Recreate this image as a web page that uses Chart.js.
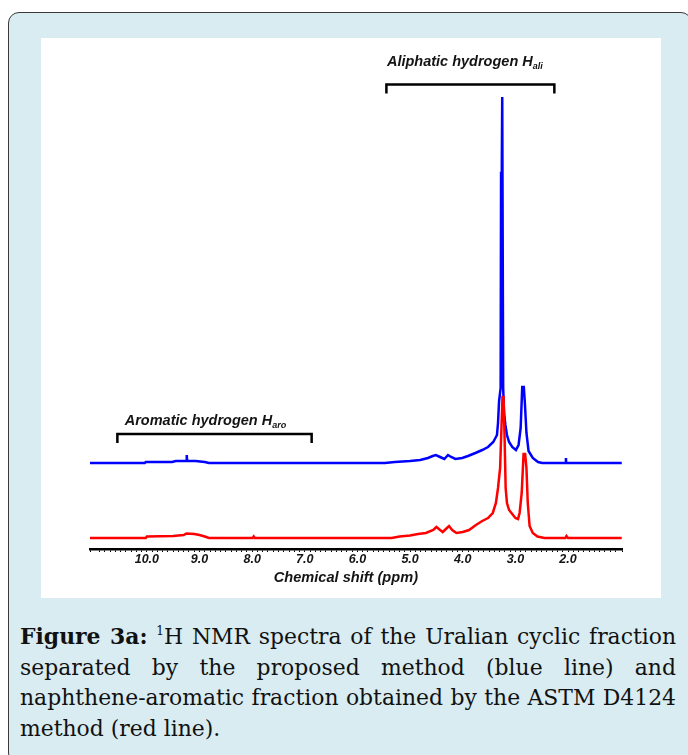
<!DOCTYPE html>
<html>
<head>
<meta charset="utf-8">
<script src="https://cdn.jsdelivr.net/npm/chart.js@4.4.0/dist/chart.umd.min.js"></script>
<style>
  body { margin: 0; background: #fff; width: 688px; height: 755px; overflow: hidden; position: relative; }
  #box { position: absolute; left: 8px; top: 12px; width: 682px; height: 750px; background: #d9ecf1;
         border: 1.5px solid #3a3a3a; border-radius: 11px; }
  #panel { position: absolute; left: 41px; top: 38px; width: 620px; height: 560px; background: #fff; }
  #caption { position: absolute; left: 20px; top: 621px; width: 656px; font-family: "DejaVu Serif", serif;
             font-size: 21px; line-height: 30.7px; color: #111; }
  #caption div { text-align: justify; text-align-last: justify; white-space: nowrap; }
  #caption div.last { text-align-last: left; }
  #caption sup { font-size: 12px; vertical-align: 9px; line-height: 0; }
</style>
</head>
<body>
<div id="box"></div>
<div id="panel"><canvas id="myChart"></canvas></div>
<div id="caption">
  <div><b>Figure 3a:</b> <sup>1</sup>H NMR spectra of the Uralian cyclic fraction</div>
  <div>separated by the proposed method (blue line) and</div>
  <div id="fitLine">naphthene-aromatic fraction obtained by the ASTM D4124</div>
  <div class="last">method (red line).</div>
</div>
<script>
// chemical shift (ppm) and intensity
var bluePpm = [11.08, 10.04, 10.02, 9.52, 9.45, 9.25, 9.242, 9.235, 9.07, 8.99, 8.9, 8.82,
  5.48, 5.29, 5.0, 4.81, 4.66, 4.57, 4.51, 4.43, 4.35, 4.28, 4.22, 4.14, 4.01, 3.9, 3.76, 3.63,
  3.52, 3.42, 3.35, 3.33, 3.31, 3.28, 3.272, 3.258, 3.25, 3.24, 3.232, 3.215, 3.19, 3.16, 3.12, 3.06,
  2.99, 2.94, 2.9, 2.87, 2.84, 2.82, 2.79, 2.75, 2.67, 2.57, 2.49, 2.045, 2.04, 2.035, 0.98];
var blueIntensity = [0, 0, 1, 1, 2, 2, 8, 2, 2, 1.5, 1, 0,
  0, 1, 2, 3, 5, 7, 8, 6, 4, 8, 6, 4, 5, 7, 10, 13,
  16, 21, 28, 40, 62, 75, 290, 300, 366, 366, 75, 50, 38, 28, 21, 16,
  13, 18, 35, 76, 76, 60, 30, 12, 5, 1, 0, 0, 5, 0, 0];

var redPpm = [11.08, 10.02, 10.0, 9.5, 9.3, 9.25, 9.1, 9.0, 8.9, 8.82, 7.99, 7.97, 7.95,
  5.35, 5.2, 5.0, 4.85, 4.7, 4.56, 4.5, 4.43, 4.38, 4.3, 4.26, 4.2, 4.12, 4.0, 3.88, 3.75,
  3.63, 3.52, 3.43, 3.37, 3.33, 3.29, 3.265, 3.245, 3.225, 3.205, 3.185, 3.16, 3.12, 3.06,
  3.0, 2.95, 2.92, 2.88, 2.845, 2.815, 2.79, 2.765, 2.73, 2.67, 2.58, 2.45, 2.05, 2.03, 2.0, 0.98];
var redIntensity = [0, 0, 1.5, 2, 3, 4.5, 4, 3, 1.5, 0, 0, 1.5, 0,
  0, 1.5, 2.5, 4, 5, 8, 11, 8, 6, 10, 12, 8, 5, 6, 8, 13,
  17, 20, 25, 35, 50, 70, 110, 141, 141, 100, 50, 35, 28, 24,
  20, 19, 25, 45, 84, 84, 70, 35, 12, 5, 1.5, 0, 0, 2, 0, 0];

// blue spectrum is stacked above the red one
var blueOffset = 75;

// x axis
var ppmMin = 0.975;
var ppmMax = 11.08;
var tickStep = 0.1;
var labelFrom = 2;
var labelTo = 10;
var axisTitle = 'Chemical shift (ppm)';
var axisTitlePpm = 6.22;

// region brackets
var bracketNames = ['Aliphatic hydrogen H', 'Aromatic hydrogen H'];
var bracketSubs = ['ali', 'aro'];
var bracketFrom = [5.45, 10.56];
var bracketTo = [2.26, 6.87];
var bracketTextPpm = [5.44, 10.42];
var bracketLevel = [453.5, 104];
var bracketTextGap = [19, 9];

function toPoints(xs, ys, shift) {
  var pts = [];
  for (var i = 0; i < xs.length; i++) {
    pts.push({x: xs[i], y: ys[i] + shift});
  }
  return pts;
}

// caption: size the serif font so the full third line spans the box
(function fitCaption() {
  var cap = document.getElementById('caption');
  var c = document.createElement('canvas').getContext('2d');
  c.font = '100px "DejaVu Serif"';
  var w = c.measureText(document.getElementById('fitLine').textContent).width;
  var size = Math.min(23, Math.floor(656 / w * 100 * 10) / 10);
  cap.style.fontSize = size + 'px';
})();

var labelFont = '"Liberation Sans", Arial, sans-serif';

var bracketPlugin = {
  id: 'brackets',
  afterDraw: function(chart) {
    var ctx = chart.ctx;
    var x = chart.scales.x, y = chart.scales.y;
    ctx.save();
    ctx.strokeStyle = '#000';
    ctx.fillStyle = '#141414';
    ctx.lineWidth = 2.5;
    for (var i = 0; i < bracketNames.length; i++) {
      var x1 = x.getPixelForValue(bracketFrom[i]);
      var x2 = x.getPixelForValue(bracketTo[i]);
      var yb = y.getPixelForValue(bracketLevel[i]);
      ctx.beginPath();
      ctx.moveTo(x1, yb + 9);
      ctx.lineTo(x1, yb);
      ctx.lineTo(x2, yb);
      ctx.lineTo(x2, yb + 9);
      ctx.stroke();

      var tx = x.getPixelForValue(bracketTextPpm[i]);
      var ty = yb - bracketTextGap[i];
      ctx.textBaseline = 'alphabetic';
      ctx.textAlign = 'left';
      ctx.font = 'italic bold 14.5px ' + labelFont;
      ctx.fillText(bracketNames[i], tx, ty);
      var w = ctx.measureText(bracketNames[i]).width;
      ctx.font = 'italic bold 9px ' + labelFont;
      ctx.fillText(bracketSubs[i], tx + w, ty + 3);
    }
    // axis title
    ctx.font = 'italic bold 14.6px ' + labelFont;
    ctx.fillStyle = '#141414';
    ctx.textAlign = 'center';
    ctx.textBaseline = 'middle';
    ctx.fillText(axisTitle, x.getPixelForValue(axisTitlePpm), x.bottom - 20);
    ctx.restore();
  }
};

var canvas = document.getElementById('myChart');
var chart = new Chart(canvas, {
  type: 'line',
  data: {
    datasets: [
      {
        label: 'naphthene-aromatic fraction (ASTM D4124)',
        data: toPoints(redPpm, redIntensity, 0),
        borderColor: '#ff0000',
        borderWidth: 2.5,
        pointRadius: 0,
        tension: 0,
        fill: false
      },
      {
        label: 'cyclic fraction (proposed method)',
        data: toPoints(bluePpm, blueIntensity, blueOffset),
        borderColor: '#0000ff',
        borderWidth: 2.5,
        pointRadius: 0,
        tension: 0,
        fill: false
      }
    ]
  },
  options: {
    responsive: true,
    maintainAspectRatio: false,
    animation: false,
    layout: { padding: { left: 49, right: 39, top: 30, bottom: 0 } },
    plugins: {
      legend: { display: false },
      tooltip: { enabled: false },
      title: { display: false }
    },
    scales: {
      x: {
        type: 'linear',
        reverse: true,
        min: ppmMin,
        max: ppmMax,
        afterFit: function(scale) { scale.height = 49; },
        border: { display: true, color: '#000', width: 2.5 },
        grid: { drawOnChartArea: false, drawTicks: true, tickLength: 3, tickColor: '#000', tickWidth: 1 },
        ticks: {
          stepSize: tickStep,
          autoSkip: false,
          maxRotation: 0,
          minRotation: 0,
          padding: 0,
          color: '#141414',
          font: { family: labelFont, size: 12.5, style: 'italic', weight: 'bold' },
          callback: function(value) {
            var r = Math.round(value);
            if (Math.abs(value - r) < 1e-6 && r >= labelFrom && r <= labelTo) {
              return r.toFixed(1);
            }
            return '';
          }
        }
      },
      y: {
        display: false,
        min: -11,
        max: 470
      }
    }
  },
  plugins: [bracketPlugin]
});
</script>
</body>
</html>
